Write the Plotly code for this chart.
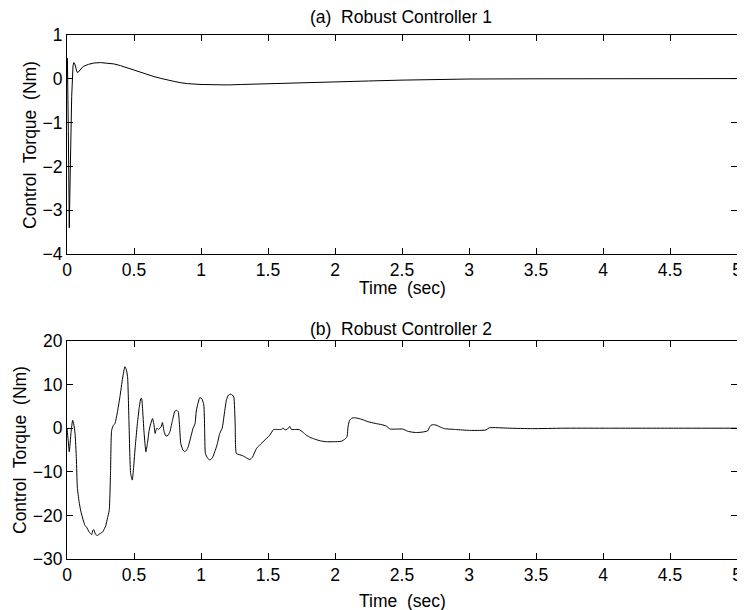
import plotly.graph_objects as go

# ---------------- data ----------------
t1 = [0, 0.003, 0.01, 0.017, 0.025, 0.035, 0.045, 0.051, 0.058, 0.065, 0.072, 0.08,
      0.09, 0.1, 0.12, 0.16, 0.2, 0.25, 0.3, 0.35, 0.4, 0.45, 0.5, 0.55, 0.6, 0.65,
      0.7, 0.75, 0.8, 0.85, 0.9, 1.0, 1.1, 1.2, 1.3, 1.4, 1.5, 1.75, 2.0, 2.25, 2.5,
      2.75, 3.0, 3.5, 4.0, 4.5, 5.0]
u1 = [0, 0.47, -1.2, -3.4, -2.0, -0.4, 0.3, 0.37, 0.34, 0.25, 0.18, 0.14,
      0.17, 0.21, 0.28, 0.33, 0.36, 0.37, 0.36, 0.34, 0.30, 0.25, 0.20, 0.15, 0.09, 0.05,
      0.01, -0.03, -0.06, -0.09, -0.11, -0.13, -0.14, -0.14, -0.13, -0.12, -0.11, -0.09, -0.07, -0.05, -0.03,
      -0.015, -0.005, 0.0, 0.0, 0.0, 0.005]

t2 = [0, 0.008, 0.017, 0.03, 0.042, 0.05, 0.06, 0.07, 0.077, 0.09,
      0.102, 0.12, 0.134, 0.146, 0.165, 0.184, 0.193, 0.201, 0.212, 0.226,
      0.245, 0.266, 0.28, 0.29, 0.303, 0.315, 0.325, 0.333, 0.345, 0.358,
      0.375, 0.395, 0.415, 0.432, 0.442, 0.452, 0.462, 0.475, 0.487, 0.497,
      0.51, 0.524, 0.538, 0.551, 0.557, 0.563, 0.575, 0.589, 0.6, 0.613,
      0.625, 0.638, 0.648, 0.658, 0.665, 0.672, 0.682, 0.692, 0.702, 0.712,
      0.725, 0.738, 0.755, 0.768, 0.785, 0.805, 0.818, 0.83, 0.84, 0.849,
      0.865, 0.879, 0.893, 0.904, 0.92, 0.941, 0.955, 0.966, 0.98, 0.991,
      1.006, 1.021, 1.027, 1.033, 1.05, 1.066, 1.085, 1.103, 1.12, 1.14,
      1.158, 1.175, 1.19, 1.205, 1.22, 1.235, 1.245, 1.255, 1.264, 1.29,
      1.31, 1.34, 1.364, 1.385, 1.413, 1.44, 1.47, 1.513, 1.542, 1.57,
      1.6, 1.612, 1.625, 1.645, 1.662, 1.675, 1.7, 1.731, 1.76, 1.786,
      1.815, 1.848, 1.89, 1.935, 1.99, 2.047, 2.07, 2.089, 2.098, 2.109,
      2.125, 2.146, 2.18, 2.22, 2.245, 2.3, 2.35, 2.382, 2.412, 2.46,
      2.506, 2.543, 2.575, 2.606, 2.65, 2.692, 2.705, 2.717, 2.735, 2.755,
      2.79, 2.817, 2.9, 3.003, 3.08, 3.127, 3.152, 3.3, 3.475, 3.7,
      4.0, 4.5, 5.0]
u2 = [0, -2.5, -5.4, -1.0, 1.8, 1.0, -1.2, -7.0, -13.5, -16.8,
      -18.9, -21.0, -22.3, -22.7, -23.8, -24.4, -23.4, -23.3, -24.3, -24.6,
      -24.2, -23.8, -23.0, -22.3, -20.5, -18.9, -10.0, -0.5, 0.6, 1.1,
      3.5, 7.2, 11.5, 14.1, 13.5, 11.8, 2.0, -10.4, -11.9, -9.0,
      -4.0, 0.7, 4.5, 6.8, 6.8, 4.9, -1.0, -5.4, -3.5, -0.5,
      1.0, 2.2, 1.0, -1.2, -0.3, 0.0, -0.3, 0.0, 0.3, 1.3,
      -0.8, -1.8, -1.6, -0.8, 1.5, 3.9, 4.1, 3.8, 0.5, -3.5,
      -5.0, -5.4, -5.0, -4.3, -2.5, 0.0, 1.0, 4.2, 6.0, 7.0,
      6.8, 5.3, 0.0, -5.8, -6.9, -7.3, -6.8, -5.4, -3.8, -1.2,
      0.0, 3.5, 6.5, 7.6, 7.8, 7.6, 7.1, 1.0, -5.8, -6.1,
      -6.3, -6.8, -7.2, -6.6, -4.7, -3.8, -2.9, -1.6, -0.3, -0.3,
      -0.3, 0.1, -0.4, -0.2, 0.4, -0.3, -0.3, -0.3, -0.9, -1.6,
      -2.1, -2.5, -2.9, -3.1, -3.1, -3.0, -2.6, -2.0, 0.5, 1.8,
      2.3, 2.4, 2.2, 1.8, 1.5, 1.1, 0.8, 0.5, -0.2, -0.2,
      -0.2, -0.7, -0.9, -1.0, -0.9, -0.6, 0.2, 0.7, 0.8, 0.7,
      0.2, -0.1, -0.3, -0.5, -0.5, -0.4, 0.1, 0.0, -0.1, 0.0,
      0.0, 0.0, 0.0]

x_ticks = [0, 0.5, 1, 1.5, 2, 2.5, 3, 3.5, 4, 4.5, 5]
x_tick_labels = ["0", "0.5", "1", "1.5", "2", "2.5", "3", "3.5", "4", "4.5", "5"]
y1_ticks = [-4, -3, -2, -1, 0, 1]
y2_ticks = [-30, -20, -10, 0, 10, 20]

title_a = "(a)\u00a0 Robust Controller 1"
title_b = "(b)\u00a0 Robust Controller 2"
x_label = "Time\u00a0 (sec)"
y_label = "Control\u00a0 Torque\u00a0 (Nm)"

# ---------------- layout ----------------
W, H = 745, 610
OFF = 8  # page body margin offsets the plot div by 8px
FONT = "Liberation Sans, Arial, Helvetica, sans-serif"
FS = 17.5

def px_x(X):
    return (X - OFF) / W

def px_y(Y):
    return 1 - (Y - OFF) / H

fig = go.Figure()
fig.add_trace(go.Scatter(x=t1, y=u1, mode="lines", line=dict(color="black", width=1),
                         xaxis="x", yaxis="y", hoverinfo="skip"))
fig.add_trace(go.Scatter(x=t2, y=u2, mode="lines",
                         line=dict(color="black", width=1, shape="spline", smoothing=0.5),
                         xaxis="x2", yaxis="y2", hoverinfo="skip"))

common = dict(showline=True, linecolor="black", linewidth=1, mirror="ticks",
              ticks="inside", ticklen=6, tickwidth=1, tickcolor="black",
              showgrid=False, zeroline=False, automargin=False,
              ticklabeloverflow="allow",
              tickfont=dict(family=FONT, size=FS, color="black"))

xdom = [px_x(67), px_x(737)]
fig.update_layout(
    template="none",
    width=W, height=H, margin=dict(l=0, r=0, t=0, b=0, pad=0),
    paper_bgcolor="white", plot_bgcolor="white", showlegend=False,
    xaxis=dict(domain=xdom, range=[0, 5], tickvals=x_ticks, ticktext=x_tick_labels,
               anchor="y", **common),
    yaxis=dict(domain=[px_y(254), px_y(35)], range=[-4, 1], tickvals=y1_ticks,
               anchor="x", **common),
    xaxis2=dict(domain=xdom, range=[0, 5], tickvals=x_ticks, ticktext=x_tick_labels,
                anchor="y2", **common),
    yaxis2=dict(domain=[px_y(559), px_y(341)], range=[-30, 20], tickvals=y2_ticks,
                anchor="x2", **common),
)

def ann(text, X, Y, angle=0):
    fig.add_annotation(text=text, xref="paper", yref="paper",
                       x=px_x(X), y=px_y(Y), xanchor="center", yanchor="middle",
                       showarrow=False, textangle=angle,
                       font=dict(family=FONT, size=FS, color="black"))

ann(title_a, 401, 17)
ann(title_b, 401, 329)
ann(x_label, 402, 288)
ann(x_label, 402, 601)
ann(y_label, 30, 145, -90)
ann(y_label, 20, 450, -90)

fig.write_html("out.html")
